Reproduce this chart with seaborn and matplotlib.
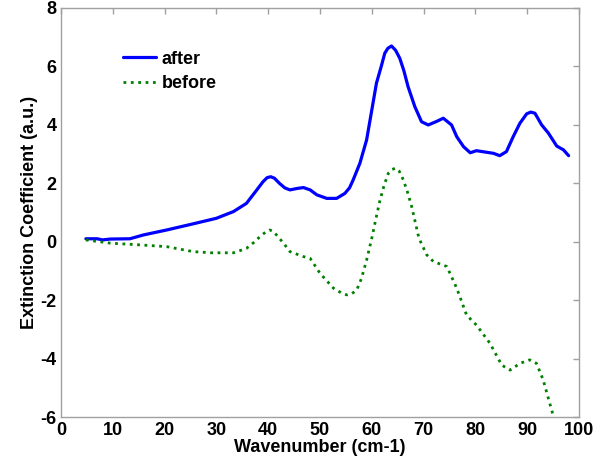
import matplotlib
matplotlib.use("Agg")
import matplotlib.pyplot as plt
import seaborn as sns
import pandas as pd

after_x = [4.8, 7.0, 8.0, 9.5, 13.3, 15.9, 20.4, 25.5, 30.0, 33.3, 35.8, 37.8, 39.0, 39.8,
           40.5, 41.2, 42.2, 43.2, 44.2, 45.6, 46.8, 48.1, 49.4, 51.3, 53.2, 54.8, 55.7, 56.4,
           57.7, 59.0, 60.0, 60.9, 61.9, 62.5, 63.1, 63.8, 64.6, 65.4, 66.2, 67.0, 68.3, 69.6,
           70.9, 72.5, 73.8, 75.4, 76.4, 77.7, 79.0, 80.2, 83.5, 84.7, 86.0, 87.3, 88.6, 89.9,
           90.7, 91.5, 92.8, 94.1, 95.7, 97.0, 98.0]
after_y = [0.11, 0.11, 0.07, 0.10, 0.11, 0.24, 0.41, 0.62, 0.81, 1.04, 1.32, 1.78, 2.06, 2.20,
           2.23, 2.18, 2.00, 1.85, 1.78, 1.83, 1.86, 1.78, 1.61, 1.49, 1.49, 1.66, 1.85, 2.12,
           2.69, 3.49, 4.51, 5.43, 6.05, 6.45, 6.62, 6.70, 6.55, 6.28, 5.85, 5.31, 4.63, 4.11,
           4.00, 4.12, 4.23, 4.00, 3.60, 3.26, 3.05, 3.12, 3.03, 2.95, 3.09, 3.60, 4.06, 4.38,
           4.44, 4.40, 4.00, 3.72, 3.28, 3.15, 2.95]

before_x = [4.8, 9.5, 15.3, 20.4, 25.5, 29.0, 33.3, 35.8, 37.2, 38.4, 39.5, 40.3, 41.0, 41.6,
            43.0, 44.2, 46.8, 48.1, 50.0, 52.6, 54.2, 55.2, 56.2, 57.1, 58.0, 59.0, 60.0, 60.8,
            61.6, 62.4, 63.2, 63.9, 64.6, 65.3, 66.1, 66.9, 67.7, 69.1, 70.6, 71.9, 74.5, 76.4,
            78.3, 80.2, 82.8, 85.1, 86.7, 88.6, 90.5, 91.8, 93.1, 95.0, 95.4]
before_y = [0.07, -0.04, -0.10, -0.16, -0.33, -0.37, -0.37, -0.22, -0.02, 0.18, 0.34, 0.41,
            0.36, 0.24, -0.05, -0.33, -0.50, -0.56, -1.07, -1.58, -1.75, -1.81, -1.76, -1.64,
            -1.25, -0.62, 0.13, 0.80, 1.44, 1.95, 2.35, 2.48, 2.52, 2.42, 2.12, 1.70, 1.21,
            0.13, -0.44, -0.67, -0.84, -1.58, -2.50, -2.84, -3.46, -4.21, -4.38, -4.15, -4.03,
            -4.15, -4.72, -5.92, -6.10]

x_ticks = [0, 10, 20, 30, 40, 50, 60, 70, 80, 90, 100]
y_ticks = [-6, -4, -2, 0, 2, 4, 6, 8]

sns.set_style("white")
plt.rcParams['font.family'] = ['Liberation Sans', 'DejaVu Sans']
plt.rcParams['font.weight'] = 'bold'
plt.rcParams['text.color'] = 'black'
plt.rcParams['axes.labelcolor'] = 'black'
plt.rcParams['xtick.color'] = 'black'
plt.rcParams['ytick.color'] = 'black'

fig = plt.figure(figsize=(6.09, 4.67), dpi=100)
ax = fig.add_axes([0.1002, 0.106, 0.8505, 0.877])

df_a = pd.DataFrame({"x": after_x, "y": after_y})
df_b = pd.DataFrame({"x": before_x, "y": before_y})
sns.lineplot(data=df_a, x="x", y="y", ax=ax, color="#0000ff", linewidth=2.3, label="after",
             sort=False)
sns.lineplot(data=df_b, x="x", y="y", ax=ax, color="#008000", linewidth=2.0, linestyle=":",
             label="before", sort=False)

ax.set_xlim(0, 100)
ax.set_ylim(-6, 8)
ax.set_xticks(x_ticks)
ax.set_yticks(y_ticks)
ax.set_xticklabels([str(t) for t in x_ticks], fontsize=13, fontweight='bold', color='black')
ax.set_yticklabels([str(t) for t in y_ticks], fontsize=13, fontweight='bold', color='black')
ax.set_xlabel("Wavenumber (cm-1)", fontsize=13, fontweight='bold', labelpad=0, color='black')
ax.set_ylabel("Extinction Coefficient (a.u.)", fontsize=13, fontweight='bold', labelpad=2,
              color='black')

for s in ax.spines.values():
    s.set_visible(True)
    s.set_color("#a0a0a0")
    s.set_linewidth(1.0)
ax.tick_params(direction='in', length=4, width=1, color="#a0a0a0", top=True, right=True,
               labelcolor='black', pad=3)

leg = ax.legend(loc='upper left', bbox_to_anchor=(0.088, 0.935), frameon=False,
                prop={'size': 13, 'weight': 'bold'}, handlelength=1.85, handletextpad=0.3,
                labelspacing=0.4)
for t in leg.get_texts():
    t.set_color('black')

fig.savefig("out.png", dpi=100)
